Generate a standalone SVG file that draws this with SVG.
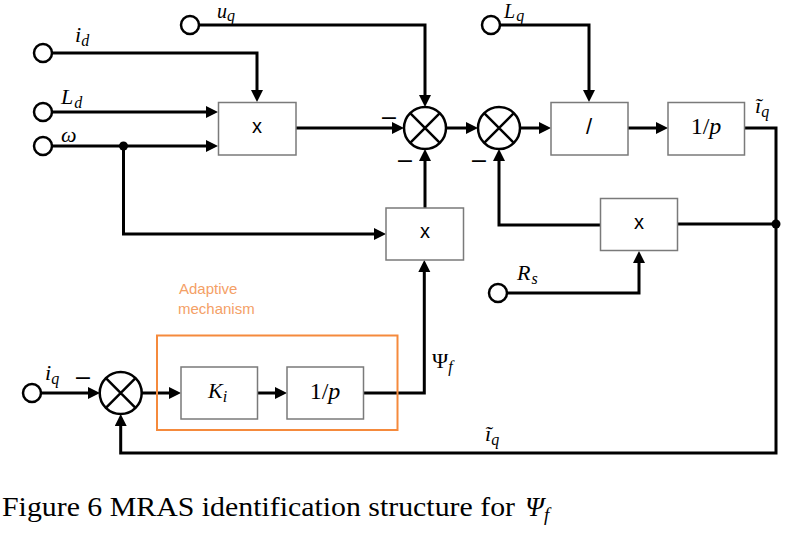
<svg xmlns="http://www.w3.org/2000/svg" width="811" height="538" viewBox="0 0 811 538">
<style>
.w{stroke:#000;stroke-width:3;fill:none}
.a{stroke:#000;stroke-width:3;fill:none;marker-end:url(#ah)}
.box{fill:#fff;stroke:#7a7a7a;stroke-width:1.5}
.sum{fill:#fff;stroke:#000;stroke-width:2.5}
.x{stroke:#000;stroke-width:2.5}
.port{fill:#fff;stroke:#000;stroke-width:2.5}
.dot{fill:#000}
.m{font-family:"Liberation Serif","Times New Roman",serif;font-style:italic;font-size:22px;fill:#000}
.s{font-size:16px}
.up{font-style:normal}
.op{font-family:"Liberation Sans",Arial,sans-serif;font-size:20px;fill:#000;text-anchor:middle}
.neg{font-family:"Liberation Sans",Arial,sans-serif;font-size:25px;fill:#000}
.or{font-family:"Liberation Sans",Arial,sans-serif;font-size:15px;fill:#F4A066}
.cap{font-family:"Liberation Serif","Times New Roman",serif;font-size:27px;fill:#000}
</style>
<defs>
<marker id="ah" markerUnits="userSpaceOnUse" markerWidth="13" markerHeight="13" refX="8" refY="6" orient="auto">
<path d="M0,0 L12,6 L0,12 z" fill="#000"/>
</marker>
</defs>
<rect width="811" height="538" fill="#fff"/>

<g id="connectors">
<path class="a" d="M199,25 H425 V103"/>
<path class="a" d="M52,53 H257 V98"/>
<path class="a" d="M52,112 H214"/>
<path class="a" d="M52,146 H214"/>
<path class="a" d="M123.5,146 V234 H382"/>
<path class="a" d="M296,128 H400"/>
<path class="a" d="M446,128 H474"/>
<path class="a" d="M520,128 H547"/>
<path class="a" d="M500,25 H589 V98"/>
<path class="a" d="M628,128 H664"/>
<path class="a" d="M744,128 H776 V453 H120.7 V418"/>
<path class="w" d="M776,224 H677"/>
<path class="a" d="M600,225 H499 V153"/>
<path class="a" d="M507,293 H639 V255"/>
<path class="a" d="M425,208 V153"/>
<path class="a" d="M363,393 H424.3 V264"/>
<path class="a" d="M41,393 H96"/>
<path class="a" d="M142,393 H177"/>
<path class="a" d="M257,393 H283"/>
<circle class="dot" cx="123.5" cy="146" r="4.5"/>
<circle class="dot" cx="776" cy="224" r="4.5"/>
</g>

<g id="in_uq"><circle class="port" cx="190" cy="25" r="9"/><text class="m" x="217" y="18" style="font-size:20px">u<tspan class="s" dy="3">q</tspan></text></g>
<g id="in_id"><circle class="port" cx="43" cy="53" r="9"/><text class="m" x="75" y="42">i<tspan class="s" dy="4">d</tspan></text></g>
<g id="in_Ld"><circle class="port" cx="43" cy="112" r="9"/><text class="m" x="61" y="104">L<tspan class="s" dx="1" dy="4">d</tspan></text></g>
<g id="in_w"><circle class="port" cx="43" cy="146" r="9"/><text class="m" x="61" y="142">ω</text></g>
<g id="in_Lq"><circle class="port" cx="491" cy="25" r="9"/><text class="m" x="504" y="18" style="font-size:20px">L<tspan class="s" dx="1" dy="3">q</tspan></text></g>
<g id="in_Rs"><circle class="port" cx="498" cy="293" r="9"/><text class="m" x="517" y="280">R<tspan class="s" dx="1" dy="4">s</tspan></text></g>
<g id="in_iq"><circle class="port" cx="32" cy="393" r="9"/><text class="m" x="45" y="380">i<tspan class="s" dy="4">q</tspan></text></g>

<g id="mul1"><rect class="box" x="218.5" y="102.5" width="77.5" height="52.5"/><text class="op" x="257" y="133">x</text></g>
<g id="mul2"><rect class="box" x="386" y="208" width="77.5" height="52"/><text class="op" x="425" y="238">x</text></g>
<g id="mul3"><rect class="box" x="600.5" y="198.5" width="77" height="52"/><text class="op" x="639" y="229">x</text></g>
<g id="div"><rect class="box" x="551" y="102.5" width="77" height="52.5"/><text class="op" x="589" y="134" style="font-size:22px">/</text></g>
<g id="int1"><rect class="box" x="668" y="102.5" width="76.5" height="52.5"/><text class="m up" x="706" y="134" text-anchor="middle" style="font-size:24px">1/<tspan font-style="italic">p</tspan></text></g>

<g id="sum1"><circle class="sum" cx="425" cy="128" r="21"/><path class="x" d="M410.2,113.2 L439.8,142.8 M439.8,113.2 L410.2,142.8"/></g>
<g id="sum2"><circle class="sum" cx="499" cy="128" r="21"/><path class="x" d="M484.2,113.2 L513.8,142.8 M513.8,113.2 L484.2,142.8"/></g>
<g id="sum3"><circle class="sum" cx="120.7" cy="393" r="21"/><path class="x" d="M105.9,378.2 L135.5,407.8 M135.5,378.2 L105.9,407.8"/></g>

<g id="signs">
<text class="neg" x="382" y="125">–</text>
<text class="neg" x="398" y="168">–</text>
<text class="neg" x="472" y="168">–</text>
<text class="neg" x="76" y="385">–</text>
</g>

<g id="adaptive">
<rect x="157" y="335.5" width="240.5" height="94.5" fill="none" stroke="#F58A3C" stroke-width="2"/>
<text class="or" x="179" y="294">Adaptive</text>
<text class="or" x="178" y="313.5">mechanism</text>
<g id="Ki"><rect class="box" x="181" y="367" width="76.5" height="52"/><text class="m" x="208" y="398">K<tspan class="s" dy="4">i</tspan></text></g>
<g id="int2"><rect class="box" x="287" y="367" width="76.5" height="52"/><text class="m up" x="325" y="399" text-anchor="middle" style="font-size:24px">1/<tspan font-style="italic">p</tspan></text></g>
</g>

<g id="labels">
<text class="m" x="755" y="113">ĩ<tspan class="s" dy="4">q</tspan></text>
<text class="m" x="485" y="441">ĩ<tspan class="s" dy="4">q</tspan></text>
<text class="m up" x="432" y="368">Ψ<tspan class="s" font-style="italic" dy="4">f</tspan></text>
</g>

<g id="caption">
<text class="cap" x="2" y="516" textLength="513" lengthAdjust="spacingAndGlyphs">Figure 6 MRAS identification structure for</text>
<text class="cap" x="525" y="516" font-style="italic">Ψ<tspan font-size="19" dy="5">f</tspan></text>
</g>
</svg>
